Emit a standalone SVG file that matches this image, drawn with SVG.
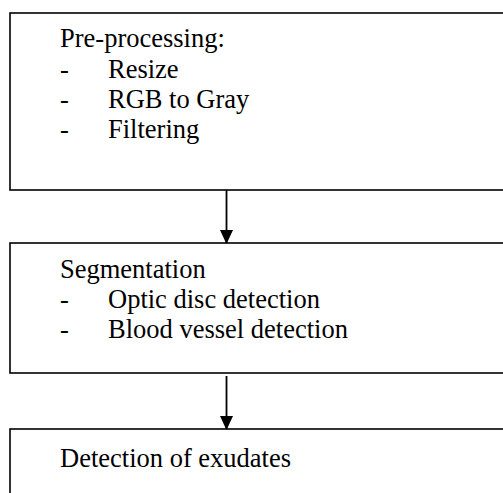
<svg xmlns="http://www.w3.org/2000/svg" width="503" height="493" viewBox="0 0 503 493">
<style>
  .box { fill: #ffffff; stroke: #000000; stroke-width: 1.6; }
  .t { font-family: "Liberation Serif", "Times New Roman", serif; font-size: 26.5px; fill: #000000; }
  .edge { stroke: #000000; stroke-width: 1.8; fill: none; }
</style>
<defs>
  <marker id="arrow" markerUnits="userSpaceOnUse" markerWidth="14" markerHeight="15" refX="14" refY="7" orient="auto" viewBox="0 0 15 14">
    <path d="M0,0 L15,7 L0,14 Z" fill="#000000"/>
  </marker>
</defs>
<rect width="503" height="493" fill="#ffffff"/>
<g id="node-preprocessing">
  <rect class="box" x="10" y="13" width="520" height="177"/>
  <text class="t" x="60" y="47">Pre-processing:</text>
  <text class="t" x="60" y="78">-</text><text class="t" x="108" y="78">Resize</text>
  <text class="t" x="60" y="108">-</text><text class="t" x="108" y="108">RGB to Gray</text>
  <text class="t" x="60" y="138">-</text><text class="t" x="108" y="138">Filtering</text>
</g>
<g id="node-segmentation">
  <rect class="box" x="10" y="243" width="520" height="130"/>
  <text class="t" x="60" y="278">Segmentation</text>
  <text class="t" x="60" y="308">-</text><text class="t" x="108" y="308">Optic disc detection</text>
  <text class="t" x="60" y="338">-</text><text class="t" x="108" y="338">Blood vessel detection</text>
</g>
<g id="node-exudates">
  <rect class="box" x="10" y="429" width="520" height="90"/>
  <text class="t" x="60" y="467">Detection of exudates</text>
</g>
<g id="connectors">
  <line class="edge" x1="226.5" y1="190" x2="226.5" y2="243" marker-end="url(#arrow)"/>
  <line class="edge" x1="226.5" y1="376" x2="226.5" y2="429" marker-end="url(#arrow)"/>
</g>
</svg>
